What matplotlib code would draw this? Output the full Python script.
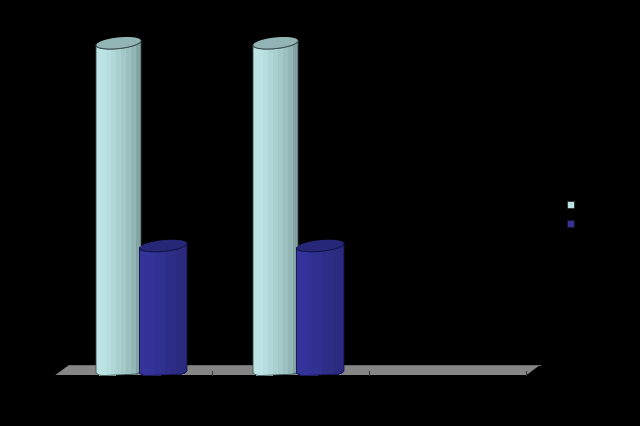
import numpy as np
import matplotlib
matplotlib.use("Agg")
import matplotlib.pyplot as plt
from matplotlib.patches import Polygon, Rectangle
from matplotlib.collections import PolyCollection

categories = [0, 1]
series_a = [100, 100]
series_b = [38, 38]
light_shades = ["#bde3e4", "#bce3e3", "#b7dedf", "#b0d7d7", "#a9cfcf", "#a3c8c8", "#9cc0c0", "#93b6b6", "#84a4a4"]
dark_shades = ["#333399", "#333399", "#323396", "#313193", "#30308f", "#2e2e8a", "#2d2d86", "#2b2b82", "#2a2a7e"]

W, H = 640, 426
fig = plt.figure(figsize=(W / 100, H / 100), dpi=100, facecolor="black")
# plot box: x 55..526 px holds 3 categories, y 370..43 px holds 0..100
ax = fig.add_axes([55 / W, 1 - 370 / H, 471 / W, 327 / H])
ax.set_xlim(0, 3)
ax.set_ylim(0, 100)
ax.axis("off")

px = 3 / 471          # category units per pixel
py = 100 / 327        # value units per pixel

# floor
floor = [(0.3 * px, -5 * py), (471.5 * px, -5 * py), (485 * px, 5 * py), (14 * px, 5 * py)]
ax.add_patch(Polygon(floor, closed=True, fc="#868686", ec="none", clip_on=False, zorder=1))
ax.plot([14 * px, 485 * px], [5 * py, 5 * py], color="#6e6e6e", lw=0.7, clip_on=False, zorder=1.1)
for t in [1, 2, 3]:
    ax.plot([t, t], [-5 * py, -1 * py], color="#3a3a3a", lw=0.8, clip_on=False, zorder=1.2)


def cylinder(left, right, value, shades, top_color, edge, z):
    c = (left + right) / 2
    a = (right - left) / 2
    b = 5.6 * py
    slope = (4.5 * py) / (right - left)
    xs = np.linspace(left, right, 91)
    u = np.clip((xs - c) / a, -1, 1)
    hump = b * np.sqrt(1 - u ** 2)
    tilt = slope * (xs - c)
    front_top = value + tilt - hump
    back_top = value + tilt + hump
    # the base sits nearly flat on the floor, curling up only at its corners
    front_bot = 0.4 * tilt - 4.9 * py * (1 - np.abs(u) ** 10) - 1.5 * py * np.abs(u) ** 10
    n = len(shades)
    verts, cols = [], []
    for i in range(n):
        i0 = i * 90 // n
        i1 = (i + 1) * 90 // n + 1
        verts.append(list(zip(xs[i0:i1], front_top[i0:i1])) + list(zip(xs[i0:i1][::-1], front_bot[i0:i1][::-1])))
        cols.append(shades[i])
    ax.add_collection(PolyCollection(verts, facecolors=cols, edgecolors="none", linewidths=0,
                                     antialiaseds=False, zorder=z, clip_on=False))
    outline = list(zip(xs, front_bot)) + list(zip(xs[::-1], front_top[::-1]))
    ax.add_patch(Polygon(outline, closed=True, fc="none", ec=edge, lw=0.6, zorder=z + 0.1, clip_on=False))
    top = list(zip(xs, front_top)) + list(zip(xs[::-1], back_top[::-1]))
    ax.add_patch(Polygon(top, closed=True, fc=top_color, ec="none", zorder=z + 0.2, clip_on=False))
    ax.plot(xs, front_top, color=edge, lw=0.7, zorder=z + 0.3, clip_on=False)


for cat, va, vb in zip(categories, series_a, series_b):
    cylinder(cat + 41 * px, cat + 86 * px, va, light_shades, "#93b4b4", "#3a4c4c", 3)
    cylinder(cat + 84.5 * px, cat + 132 * px, vb, dark_shades, "#272777", "#14144a", 4)

# legend keys
for yy, col in [(204.5, light_shades[1]), (223.5, dark_shades[0])]:
    fig.add_artist(Rectangle((567 / W, 1 - (yy + 3.5) / H), 7 / W, 7 / H,
                             transform=fig.transFigure, fc=col, ec="#111111", lw=0.4))

fig.savefig("out.png", dpi=100, facecolor="black")
